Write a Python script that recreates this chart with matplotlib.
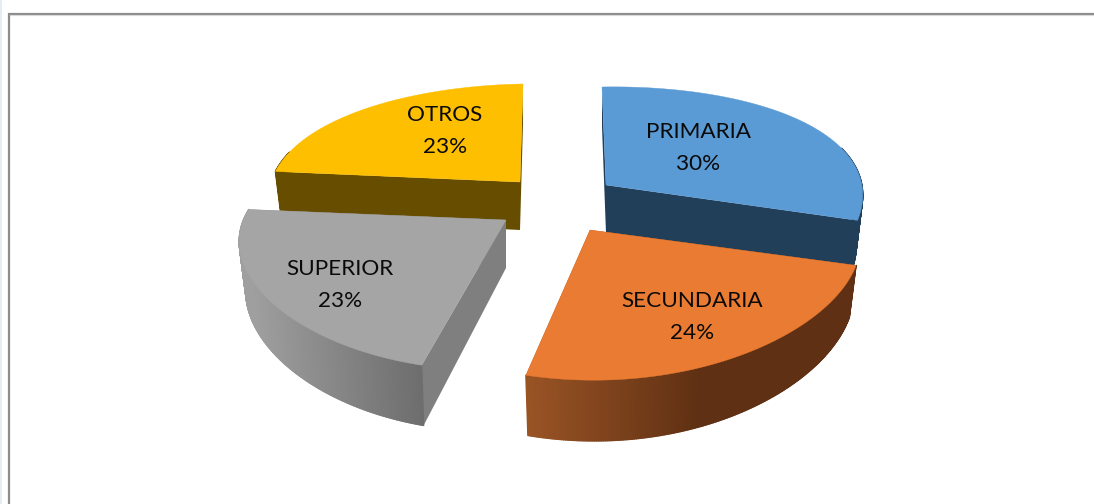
import numpy as np
import matplotlib
matplotlib.use("Agg")
import matplotlib.pyplot as plt
from matplotlib.patches import Polygon
from matplotlib.collections import PolyCollection
from matplotlib.colors import to_rgb

# Data
categories = ["PRIMARIA", "SECUNDARIA", "SUPERIOR", "OTROS"]
percent = [30, 24, 23, 23]

# Style
top_colors = ["#5B9BD5", "#E97B32", "#A5A5A5", "#FDBF00"]
side_colors = ["#223F59", "#7F3F14", "#7F7F7F", "#664D00"]
rim_left = ["#223F59", "#9A5425", "#9F9F9F", "#664D00"]
rim_right = ["#223F59", "#5F3013", "#6C6C6C", "#664D00"]
rim_span = [(0, 1), (525, 700), (250, 425), (0, 1)]

# Layout (pixels)
W, H = 1094, 504
apex = [(606, 185), (590, 230), (506, 220), (520, 182)]
radius_x = [255, 268, 264, 250]
shear_x = [-4, -10, 12, 3]
tilt_y = 4
persp_x = 0.10
persp_y = 0.21
radius_y = 118.6
depth = 48
shrink = 0.025
label_xy = [(698, 148), (692, 317), (340, 285), (445, 131)]
draw_order = [3, 0, 2, 1]


def project(i, theta, r=1.0, z=0.0):
    X = r * np.sin(theta)
    Y = r * np.cos(theta)
    wx = 1 + persp_x * Y
    wy = 1 + persp_y * Y
    x = apex[i][0] + radius_x[i] * X / (wx + shrink * z) + shear_x[i] * Y
    y = apex[i][1] - radius_y * Y / wy - tilt_y * X + depth * z / wy
    return x, y


fig = plt.figure(figsize=(W / 100, H / 100), dpi=100)
ax = fig.add_axes([0, 0, 1, 1])
ax.set_xlim(0, W)
ax.set_ylim(H, 0)
ax.axis("off")

# Frame
ax.plot([9, 9, W], [H, 13.5, 13.5], color="#8C8C8C", lw=1.6, solid_joinstyle="miter")
ax.plot([9.5, W], [15, 15], color="#DADADA", lw=0.8)
ax.fill_between([0, 2], 0, H, color="#E6ECF5", lw=0)

edges = np.concatenate([[0], np.cumsum(percent)]) / np.sum(percent) * 2 * np.pi

for i in draw_order:
    a0, a1 = edges[i], edges[i + 1]
    thetas = np.linspace(a0, a1, 241)
    # flat cut walls
    for ang in (a0, a1):
        x0, y0 = project(i, ang, 0)
        xb0, yb0 = project(i, ang, 0, 1)
        x1, y1 = project(i, ang, 1)
        xb1, yb1 = project(i, ang, 1, 1)
        ax.add_patch(Polygon([(x0, y0), (x1, y1), (xb1, yb1), (xb0, yb0)],
                             closed=True, fc=side_colors[i], ec="none"))
    # outer rim wall with horizontal gradient (front part only)
    xt, yt = project(i, thetas)
    xb, yb = project(i, thetas, 1, 1)
    polys, cols = [], []
    c0, c1 = np.array(to_rgb(rim_left[i])), np.array(to_rgb(rim_right[i]))
    for k in range(len(thetas) - 1):
        if np.cos(thetas[k]) > 0.3:
            continue
        polys.append([(xt[k], yt[k]), (xt[k + 1], yt[k + 1]), (xb[k + 1], yb[k + 1]), (xb[k], yb[k])])
        t = np.clip(((xt[k] + xt[k + 1]) / 2 - rim_span[i][0]) / (rim_span[i][1] - rim_span[i][0]), 0, 1)
        cols.append(c0 + (c1 - c0) * t)
    ax.add_collection(PolyCollection(polys, facecolors=cols, edgecolors=cols, linewidths=1.0))
    # top face
    x0, y0 = project(i, a0, 0)
    ax.add_patch(Polygon([(x0, y0)] + list(zip(xt, yt)), closed=True, fc=top_colors[i], ec=top_colors[i], lw=0.3))

for name, val, (lx, ly) in zip(categories, percent, label_xy):
    ax.text(lx, ly, f"{name}\n{val}%", ha="center", va="center", family="Lato",
            fontsize=16.2, color="#0A0A0A", linespacing=1.72)

fig.savefig("out.png", dpi=100)
